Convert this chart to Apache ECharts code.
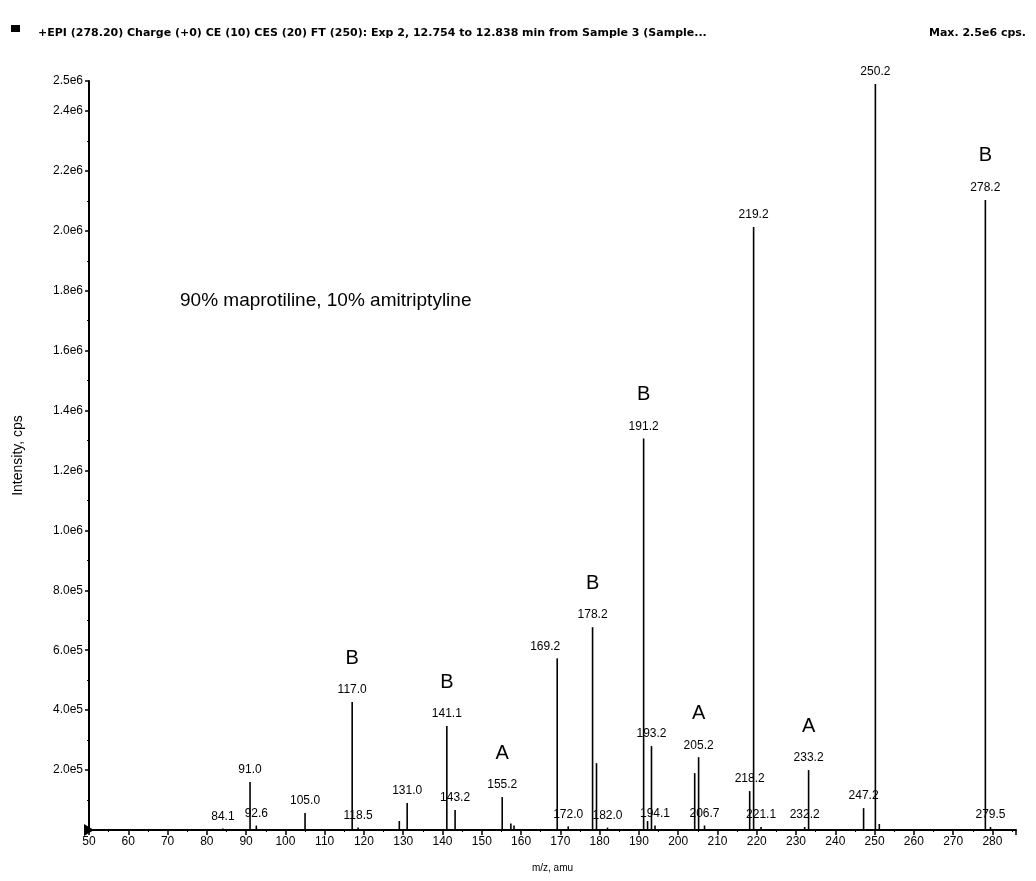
<!DOCTYPE html>
<html>
<head>
<meta charset="utf-8">
<script src="https://cdn.jsdelivr.net/npm/echarts@6/dist/echarts.min.js"></script>
<style>html,body{margin:0;padding:0;background:#fff}#c{width:1036px;height:881px}</style>
</head>
<body>
<div id="c"></div>
<script>
// ---- data ----
const peakMz = [84.1, 91.0, 92.6, 105.0, 117.0, 118.5, 129.0, 131.0, 141.1, 143.2, 155.2, 157.4, 158.2, 169.2, 172.0, 178.2, 179.2, 182.0, 191.2, 192.2, 193.2, 194.1, 204.2, 205.2, 206.7, 218.2, 219.2, 221.1, 232.2, 233.2, 247.2, 250.2, 251.2, 278.2, 279.5];
const peakIntensity = [5e3, 1.6e5, 1.5e4, 5.7e4, 4.27e5, 8e3, 3e4, 9e4, 3.47e5, 6.7e4, 1.1e5, 2.2e4, 1.5e4, 5.73e5, 1.2e4, 6.77e5, 2.23e5, 8e3, 1.307e6, 3e4, 2.8e5, 1.5e4, 1.9e5, 2.43e5, 1.5e4, 1.3e5, 2.013e6, 1e4, 1e4, 2.0e5, 7.3e4, 2.49e6, 2e4, 2.103e6, 1e4];
const peakLabel = ['84.1', '91.0', '92.6', '105.0', '117.0', '118.5', '', '131.0', '141.1', '143.2', '155.2', '', '', '169.2', '172.0', '178.2', '', '182.0', '191.2', '', '193.2', '194.1', '', '205.2', '206.7', '218.2', '219.2', '221.1', '232.2', '233.2', '247.2', '250.2', '', '278.2', '279.5'];
const peakTag = ['', '', '', '', 'B', '', '', '', 'B', '', 'A', '', '', '', '', 'B', '', '', 'B', '', '', '', '', 'A', '', '', '', '', '', 'A', '', '', '', 'B', ''];
const xTicks = [50, 60, 70, 80, 90, 100, 110, 120, 130, 140, 150, 160, 170, 180, 190, 200, 210, 220, 230, 240, 250, 260, 270, 280];
const titleText = '+EPI (278.20) Charge (+0) CE (10) CES (20) FT (250): Exp 2, 12.754 to 12.838 min from Sample 3 (Sample...';
const maxText = 'Max. 2.5e6 cps.';
const noteText = '90% maprotiline, 10% amitriptyline';

const FONT = 'Liberation Sans';
const data = peakMz.map((m, i) => {
  const item = { value: [m, peakIntensity[i]] };
  if (peakLabel[i] === '169.2') item.label = { offset: [-12, 0] };
  return item;
});

const chart = echarts.init(document.getElementById('c'), null, { renderer: 'canvas' });
chart.setOption({
  backgroundColor: '#fff',
  animation: false,
  title: [
    { text: titleText, left: 33, top: 23, textStyle: { fontFamily: 'DejaVu Sans', fontSize: 11, fontWeight: 'bold', color: '#000' } },
    { text: maxText, right: 5, top: 23, textStyle: { fontFamily: 'DejaVu Sans', fontSize: 11, fontWeight: 'bold', color: '#000' } },
    { text: noteText, left: 175, top: 286, textStyle: { fontFamily: FONT, fontSize: 19, fontWeight: 'normal', color: '#000' } }
  ],
  graphic: [
    { type: 'rect', left: 11, top: 25, shape: { width: 9, height: 7 }, style: { fill: '#000' } }
  ],
  grid: { left: 89, right: 20, top: 81, bottom: 51 },
  xAxis: {
    type: 'value', min: 50, max: 286, interval: 10,
    name: 'm/z, amu', nameLocation: 'middle', nameGap: 33,
    nameTextStyle: { fontFamily: FONT, fontSize: 10, color: '#000' },
    axisLine: { lineStyle: { color: '#000', width: 2 } },
    axisTick: { show: true, length: 5, lineStyle: { color: '#000', width: 1.5 } },
    minorTick: { show: true, splitNumber: 2, length: 2, lineStyle: { color: '#000' } },
    splitLine: { show: false },
    axisLabel: {
      fontFamily: FONT, fontSize: 12, color: '#000', margin: 6,
      formatter: v => xTicks.includes(v) ? String(v) : ''
    }
  },
  yAxis: {
    type: 'value', min: 0, max: 2.5e6, interval: 2e5,
    name: 'Intensity, cps', nameLocation: 'middle', nameGap: 64, nameRotate: 90,
    nameTextStyle: { fontFamily: FONT, fontSize: 14, color: '#000' },
    axisLine: { show: true, lineStyle: { color: '#000', width: 2 } },
    axisTick: { show: true, length: 4, lineStyle: { color: '#000', width: 1.5 } },
    minorTick: { show: true, splitNumber: 2, length: 2, lineStyle: { color: '#000' } },
    splitLine: { show: false },
    axisLabel: {
      fontFamily: FONT, fontSize: 12, color: '#000', margin: 6,
      formatter: v => {
        if (v === 0) return '';
        if (v >= 1e6) return (v / 1e6).toFixed(1) + 'e6';
        return (v / 1e5).toFixed(1) + 'e5';
      }
    }
  },
  series: [{
    type: 'bar',
    barWidth: 1.6,
    itemStyle: { color: '#000' },
    data: data,
    label: {
      show: true, position: 'top', distance: 5, color: '#000',
      formatter: p => {
        const i = p.dataIndex;
        if (!peakLabel[i]) return '';
        return peakTag[i] ? '{tag|' + peakTag[i] + '}\n{num|' + peakLabel[i] + '}' : '{num|' + peakLabel[i] + '}';
      },
      rich: {
        tag: { fontFamily: FONT, fontSize: 20, lineHeight: 50, color: '#000', align: 'center' },
        num: { fontFamily: FONT, fontSize: 12, lineHeight: 14, color: '#000', align: 'center' }
      }
    },
    markPoint: {
      silent: true,
      label: { show: false },
      data: [{ coord: [50, 0], symbol: 'triangle', symbolRotate: -90, symbolSize: [12, 10], itemStyle: { color: '#000' } }]
    }
  }]
});
</script>
</body>
</html>
